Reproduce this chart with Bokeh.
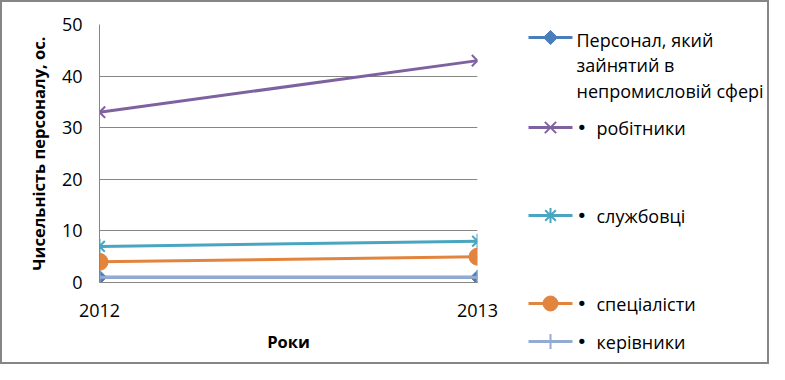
import math
from bokeh.plotting import figure
from bokeh.models import Range1d, FixedTicker
from bokeh.layouts import row, column
from bokeh.core.properties import value
from bokeh.embed import file_html
from bokeh.resources import INLINE

# ---- data ----
years = [2012, 2013]
total_nonind = [1, 1]      # Персонал, який зайнятий в непромисловій сфері
workers = [33, 43]         # робітники
clerks = [7, 8]            # службовці
specialists = [4, 5]       # спеціалісти
managers = [1, 1]          # керівники
y_ticks = [0, 10, 20, 30, 40, 50]

series_names = ["Персонал, який\nзайнятий в\nнепромисловій сфері",
                "робітники", "службовці", "спеціалісти", "керівники"]
series_bullet = [False, True, True, True, True]
series_values = [total_nonind, workers, clerks, specialists, managers]

# ---- styles ----
FONT = "Open Sans"
colors = ["#4A7EBB", "#7E62A0", "#4AA6C0", "#E2843D", "#93ABD2"]
markers = ["square", "x", "asterisk", "circle", "cross"]
angles = [math.pi / 4, 0, 0, 0, 0]
msizes = [10, 16, 15, 17, 15]
grid_c = "#868686"

W_MAIN, W_LEG, H = 500, 265, 360

p = figure(width=W_MAIN, height=H, output_backend="svg", toolbar_location=None,
           x_range=Range1d(years[0], years[-1]), y_range=Range1d(y_ticks[0], y_ticks[-1]),
           min_border_left=97, min_border_right=25, min_border_top=22, min_border_bottom=80)
p.outline_line_color = None
p.xgrid.grid_line_color = None
p.ygrid.grid_line_color = grid_c
p.ygrid.grid_line_width = 1
p.xaxis.ticker = FixedTicker(ticks=years)
p.yaxis.ticker = FixedTicker(ticks=y_ticks)
for ax in (p.xaxis, p.yaxis):
    ax.axis_line_color = grid_c
    ax.axis_line_width = 1
    ax.major_tick_line_color = None
    ax.minor_tick_line_color = None
    ax.major_label_text_font = FONT
    ax.major_label_text_font_size = "18px"
    ax.major_label_text_color = "black"
    ax.axis_label_text_font = FONT
    ax.axis_label_text_font_size = "16.5px"
    ax.axis_label_text_font_style = "bold"
    ax.axis_label_text_color = "black"
p.xaxis.axis_label = "Роки"
p.yaxis.axis_label = "Чисельність персоналу, ос."
p.xaxis.major_label_standoff = 15
p.xaxis.axis_label_standoff = 10
p.yaxis.major_label_standoff = 11
p.yaxis.axis_label_standoff = 9


def draw_marker(fig, xs, ys, m, s, c, a):
    if m in ("x", "asterisk", "cross"):
        fig.scatter(xs, ys, marker=m, size=s, line_color=c, line_width=2)
    else:
        fig.scatter(xs, ys, marker=m, size=s, angle=a, fill_color=c, line_color=c)


for vals, c, m, s, a in zip(series_values, colors, markers, msizes, angles):
    p.line(years, vals, line_color=c, line_width=3)
    draw_marker(p, years, vals, m, s, c, a)

# ---- legend panel ----
lg = figure(width=W_LEG, height=H, output_backend="svg", toolbar_location=None,
            x_range=Range1d(0, W_LEG), y_range=Range1d(H, 0),
            min_border=0)
lg.axis.visible = False
lg.grid.visible = False
lg.outline_line_color = None

leg_y = [35, 125, 213, 301, 339]
line_x0, line_x1, mark_x, first_text_x, bullet_x, text_x = 26, 70, 48, 74, 74, 94
for name, bul, c, m, s, a, y in zip(series_names, series_bullet, colors, markers,
                                     msizes, angles, leg_y):
    lg.line([line_x0, line_x1], [y, y], line_color=c, line_width=3)
    draw_marker(lg, [mark_x], [y], m, s if m != "circle" else s - 2, c, a)
    if bul:
        lg.text([bullet_x], [y], text=["•"], text_font=value("DejaVu Sans"),
                text_font_size="18px", text_color="black", text_baseline="middle")
        lg.text([text_x], [y], text=[name], text_font=value(FONT),
                text_font_size="18px", text_color="black", text_baseline="middle")
    else:
        lg.text([first_text_x], [y - 10], text=[name], text_font=value(FONT),
                text_font_size="18px", text_color="black", text_baseline="top",
                text_line_height=1.07)

layout = row(p, column(lg), styles={"border": "2px solid #868686", "background": "white"})

open("out.html", "w").write(file_html(layout, INLINE))
